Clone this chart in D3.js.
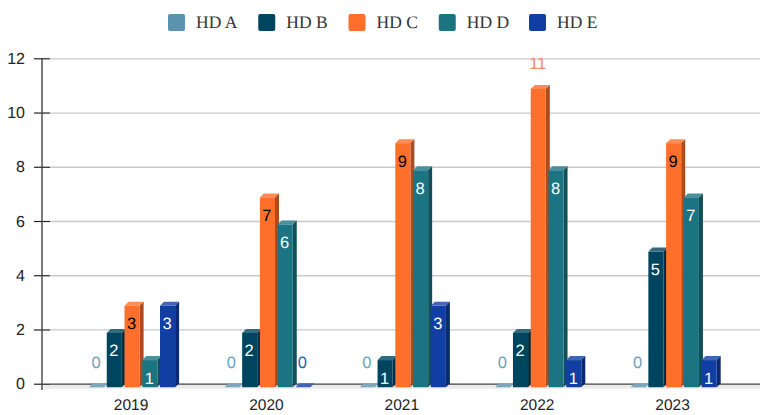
<!DOCTYPE html>
<html>
<head>
<meta charset="utf-8">
<script src="https://cdn.jsdelivr.net/npm/d3@7"></script>
<style>
  html, body { margin: 0; padding: 0; background: #fff; }
  svg { display: block; text-rendering: geometricPrecision; }
</style>
</head>
<body>
<div id="chart"></div>
<script>
const years = ["2019", "2020", "2021", "2022", "2023"];
const seriesNames = ["HD A", "HD B", "HD C", "HD D", "HD E"];
const seriesColors = ["#5b92ad", "#004560", "#ff6f2c", "#1b7482", "#103ea3"];
const labelColors = ["#6ea3bd", "#ffffff", "#000000", "#ffffff", "#ffffff"];
const hdA = [0, 0, 0, 0, 0];
const hdB = [2, 2, 1, 2, 5];
const hdC = [3, 7, 9, 11, 9];
const hdD = [1, 6, 8, 8, 7];
const hdE = [3, 0, 3, 1, 1];
const seriesValues = [hdA, hdB, hdC, hdD, hdE];
const yTicks = [0, 2, 4, 6, 8, 10, 12];

const width = 760, height = 415;
const depth = 4, floorDrop = 4;
const sansFont = "'Liberation Sans', Arial, sans-serif";

const svg = d3.select("#chart").append("svg")
  .attr("width", width)
  .attr("height", height);

const x = d3.scaleBand().domain(years).range([63.3, 740.3]);
const xInner = d3.scaleBand().domain(seriesNames)
  .range([x.bandwidth() / 2 - 42, x.bandwidth() / 2 + 44.1])
  .paddingInner(0.15);
const y = d3.scaleLinear().domain([0, 12]).range([383.7, 58.3]);

// floor of the 3d plot
svg.append("rect")
  .attr("x", 44)
  .attr("y", y(0))
  .attr("width", width - 44)
  .attr("height", floorDrop + 1)
  .attr("fill", "#ebebeb");

// y axis with gridlines
const yAxis = svg.append("g")
  .attr("transform", "translate(42,0)")
  .call(d3.axisLeft(y).tickValues(yTicks).tickSize(0).tickPadding(17));
yAxis.select(".domain").remove();
yAxis.selectAll("text")
  .attr("font-family", sansFont)
  .attr("font-size", 16)
  .attr("fill", "#222");
yAxis.selectAll(".tick").filter((d) => d > 0).append("line")
  .attr("x1", 8).attr("x2", width - 42)
  .attr("stroke", "#c9c9c9").attr("stroke-width", 1.3);
yAxis.selectAll(".tick").filter((d) => d === 0).append("line")
  .attr("x1", 8).attr("x2", width - 42)
  .attr("stroke", "#444").attr("stroke-width", 1.2);
yAxis.selectAll(".tick").append("line")
  .attr("x1", -8).attr("x2", 8)
  .attr("stroke", "#222").attr("stroke-width", 1.2);

svg.append("line")
  .attr("x1", 42).attr("x2", 42)
  .attr("y1", 58).attr("y2", 390)
  .attr("stroke", "#444").attr("stroke-width", 1.4);

// x axis labels
const xAxis = svg.append("g")
  .attr("transform", "translate(0,396)")
  .call(d3.axisBottom(x).tickSize(0).tickPadding(3));
xAxis.select(".domain").remove();
xAxis.selectAll("text")
  .attr("font-family", sansFont)
  .attr("font-size", 15.5)
  .attr("fill", "#222");

// bars, one group per year, back to front
const bars = years.flatMap((year, i) =>
  seriesNames.map((name, s) => ({ year, name, s, value: seriesValues[s][i] }))
);

const bar = svg.append("g").selectAll("g")
  .data(bars)
  .join("g")
  .attr("transform", (d) => `translate(${x(d.year) + xInner(d.name)},${floorDrop - 0.5})`);

const w = xInner.bandwidth();

// top face
bar.append("path")
  .attr("d", (d) => {
    const t = y(d.value);
    return `M0,${t}L${depth},${t - depth}L${w + depth},${t - depth}L${w},${t}Z`;
  })
  .attr("fill", (d) => d3.interpolateRgb(seriesColors[d.s], "#fff")(0.2));

// side face
bar.append("path")
  .attr("d", (d) => {
    const t = y(d.value), b = y(0);
    return `M${w},${t}L${w + depth},${t - depth}L${w + depth},${b - depth}L${w},${b}Z`;
  })
  .attr("fill", (d) => d3.interpolateRgb(seriesColors[d.s], "#000")(0.32));

// front face
bar.append("rect")
  .attr("y", (d) => y(d.value))
  .attr("width", w)
  .attr("height", (d) => y(0) - y(d.value))
  .attr("fill", (d) => seriesColors[d.s]);

// value labels
svg.append("g").selectAll("text")
  .data(bars)
  .join("text")
  .attr("x", (d) => x(d.year) + xInner(d.name) + w / 2 - 0.5)
  .attr("y", (d) => {
    if (d.value === 0) return y(0) - 16;
    if (d.value === 11) return y(d.value) - 16.5;
    return y(d.value) + 27;
  })
  .attr("text-anchor", "middle")
  .attr("font-family", sansFont)
  .attr("font-size", 16.5)
  .attr("fill", (d) => {
    if (d.value === 0) return d.s === 4 ? "#2f5bb8" : labelColors[0];
    if (d.value === 11) return "#ff8a57";
    return labelColors[d.s];
  })
  .text((d) => d.value);

// legend
const legendX = d3.scalePoint().domain(seriesNames).range([168, 529]);
const legend = svg.append("g").selectAll("g")
  .data(seriesNames)
  .join("g")
  .attr("transform", (d) => `translate(${legendX(d)},14)`);

legend.append("rect")
  .attr("width", 17)
  .attr("height", 17)
  .attr("rx", 2)
  .attr("fill", (d, i) => seriesColors[i]);

legend.append("text")
  .attr("x", 28)
  .attr("y", 14)
  .attr("font-family", "'Liberation Serif', serif")
  .attr("font-size", 17.5)
  .attr("fill", "#333")
  .text((d) => d);
</script>
</body>
</html>
